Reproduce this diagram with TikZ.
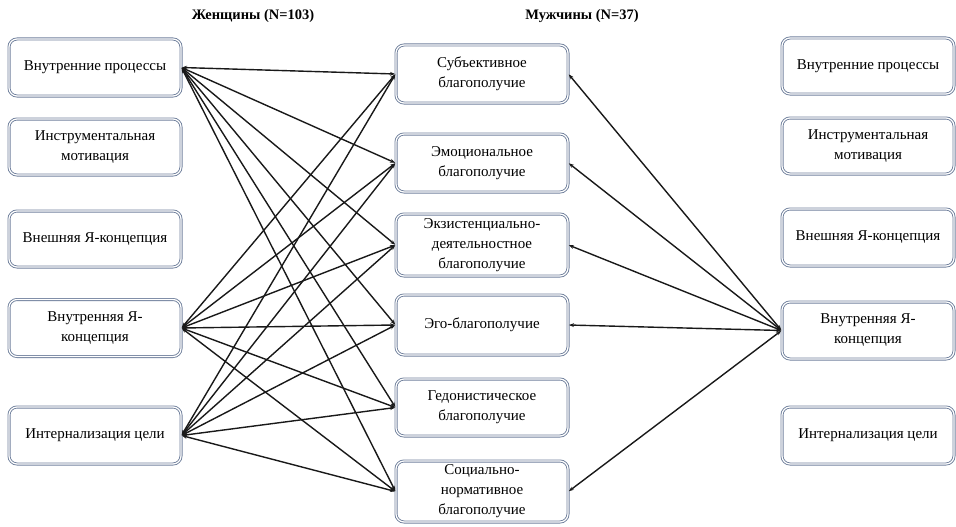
\documentclass[tikz,border=0pt]{standalone}
\usepackage{fontspec}
\setmainfont{Liberation Serif}
\newfontfamily\boxfont{Liberation Serif}
\usetikzlibrary{arrows.meta}
\definecolor{boxline}{RGB}{112,128,156}
\definecolor{edgecol}{RGB}{25,25,25}
\tikzset{
  box/.style={rectangle, rounded corners=8pt, draw=boxline, line width=0.9pt,
    double=white, double distance=1.2pt, minimum width=#1, align=center,
    inner sep=0pt, font=\boxfont\fontsize{15}{20}\selectfont, text=black},
  box/.default=172pt,
  title/.style={font=\boxfont\fontsize{14.5}{17}\selectfont\bfseries, text=black},
  link/.style={edgecol, line width=1.4pt, {Stealth[length=5pt,width=3.8pt]}-{Stealth[length=5pt,width=3.8pt]}, shorten <=0.5pt, shorten >=0.5pt}
}
\begin{document}
\begin{tikzpicture}[x=1pt,y=-1pt]
\useasboundingbox (0,0) rectangle (956,527);
\node[title] (tw) at (253,16) {Женщины (N=103)};
\node[title] (tm) at (582,16) {Мужчины (N=37)};
% left column
\node[box, minimum height=57pt] (L1) at (95,67.5) {Внутренние процессы};
\node[box, minimum height=56pt] (L2) at (95,147) {Инструментальная\\мотивация};
\node[box, minimum height=56pt] (L3) at (95,239) {Внешняя Я-концепция};
\node[box, minimum height=57pt] (L4) at (95,328) {Внутренняя Я-\\концепция};
\node[box, minimum height=57pt] (L5) at (95,435.5) {Интернализация цели};
% center column
\node[box, minimum height=58pt] (C1) at (482,74) {Субъективное\\благополучие};
\node[box, minimum height=58pt] (C2) at (482,163) {Эмоциональное\\благополучие};
\node[box, minimum height=62pt] (C3) at (482,245) {Экзистенциально-\\деятельностное\\благополучие};
\node[box, minimum height=60pt] (C4) at (482,325) {Эго-благополучие};
\node[box, minimum height=57pt] (C5) at (482,407.5) {Гедонистическое\\благополучие};
\node[box, minimum height=61pt] (C6) at (482,491.5) {Социально-\\нормативное\\благополучие};
% right column
\node[box, minimum height=56pt] (R1) at (868,66) {Внутренние процессы};
\node[box, minimum height=56pt] (R2) at (868,146) {Инструментальная\\мотивация};
\node[box, minimum height=57pt] (R3) at (868,237.5) {Внешняя Я-концепция};
\node[box, minimum height=57pt] (R4) at (868,330.5) {Внутренняя Я-\\концепция};
\node[box, minimum height=57pt] (R5) at (868,435.5) {Интернализация цели};
% women links
\foreach \s in {L1,L4,L5}{
  \foreach \t in {C1,C2,C3,C4,C5,C6}{
    \draw[link] (\s.east) -- (\t.west);
  }
}
% men links
\foreach \t in {C1,C2,C3,C4,C6}{
  \draw[link] (R4.west) -- (\t.east);
}
\end{tikzpicture}
\end{document}
